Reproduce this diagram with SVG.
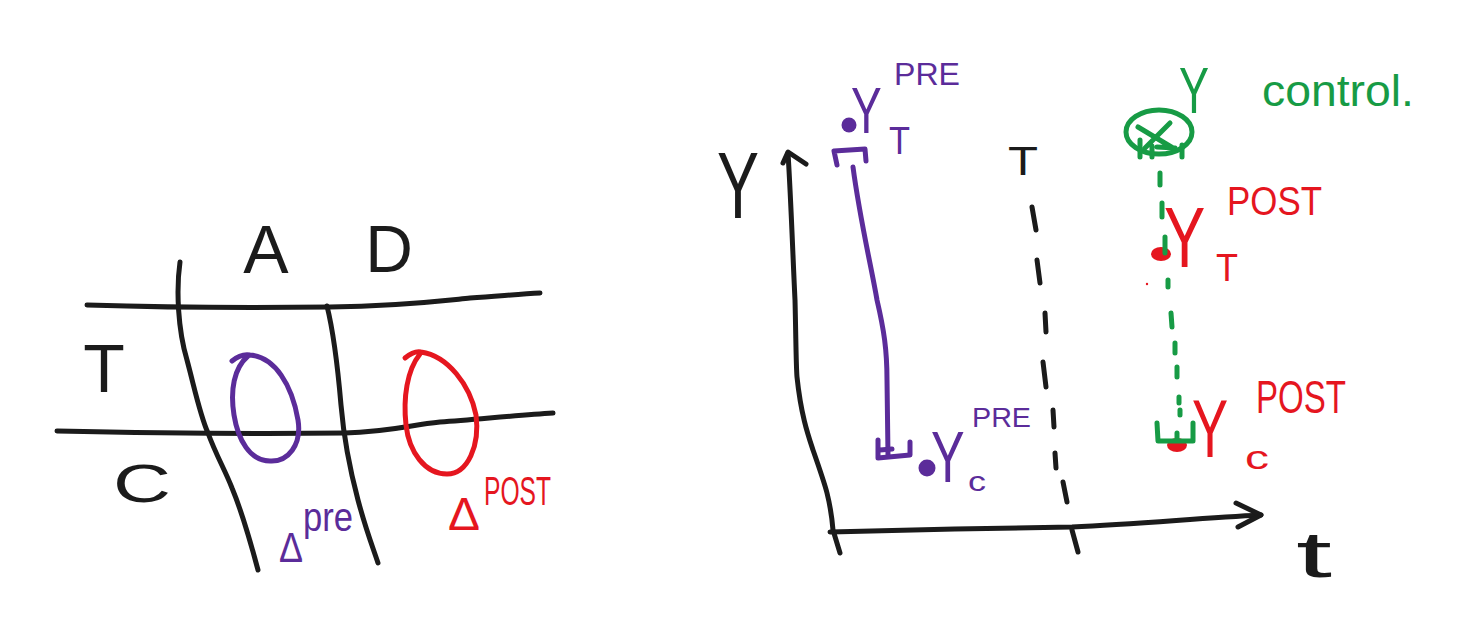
<svg xmlns="http://www.w3.org/2000/svg" width="1483" height="619" viewBox="0 0 1483 619">
<style>
text{font-family:"Liberation Sans",Arial,sans-serif}
.k{fill:#1b1b1b}
.p{fill:#5b2c9a}
.r{fill:#e5161f}
.g{fill:#179b45}
.sk,.sp,.sr,.sg{fill:none;stroke-width:5;stroke-linecap:round;stroke-linejoin:round}
.sk{stroke:#1b1b1b}
.sp{stroke:#5b2c9a}
.sr{stroke:#e5161f}
.sg{stroke:#179b45}
</style>
<rect width="1483" height="619" fill="#ffffff"/>

<g id="table">
  <path class="sk" d="M87,305 C150,307 250,308 330,307 C400,306 440,301 470,298 C500,296 520,294 540,293"/>
  <path class="sk" d="M57,431 C150,433 260,434 345,433 C390,432 410,425 440,422 C480,419 520,415 553,413"/>
  <path class="sk" d="M180,262 C176,290 178,330 187,360 C195,390 200,415 208,433 C216,455 225,470 232,488 C242,512 250,540 258,570"/>
  <path class="sk" d="M327,306 C333,330 338,370 341,405 C344,440 350,470 358,500 C366,530 372,545 378,563"/>
</g>
<g id="node-A"><text class="k" x="266" y="273" font-size="68" text-anchor="middle">A</text></g>
<g id="node-D"><text class="k" x="389" y="272" font-size="66" text-anchor="middle">D</text></g>
<g id="node-T"><text class="k" x="104" y="392" font-size="68" text-anchor="middle">T</text></g>
<g id="node-C"><text class="k" x="113" y="502" font-size="54" textLength="58" lengthAdjust="spacingAndGlyphs">C</text></g>
<g id="node-pre">
  <path class="sp" d="M232,361 C238,356 244,354 250,355 C275,357 292,385 298,420 C302,445 288,462 270,461 C250,461 238,440 234,415 C230,390 234,368 248,356"/>
  <text class="p" x="279" y="562" font-size="42" textLength="24" lengthAdjust="spacingAndGlyphs">Δ</text>
  <text class="p" x="303" y="531" font-size="40" textLength="50" lengthAdjust="spacingAndGlyphs">pre</text>
</g>
<g id="node-post">
  <path class="sr" d="M405,358 C411,353 416,351 421,352 C448,356 470,385 476,415 C480,445 468,474 447,474 C425,474 409,452 406,425 C403,398 407,370 420,354"/>
  <text class="r" x="448" y="530" font-size="46" textLength="32" lengthAdjust="spacingAndGlyphs">Δ</text>
  <text class="r" x="484" y="505" font-size="40" textLength="67" lengthAdjust="spacingAndGlyphs">POST</text>
</g>

<g id="connectors">
  <path class="sk" d="M788,153 C791,200 793,260 795,300 C796,340 796,365 797,377 C801,415 808,435 813,450 C820,470 825,485 827,493 C830,505 832,518 833,530 L840,553"/>
  <path class="sk" d="M783,163 L788,152 L806,164"/>
  <path class="sk" d="M830,532 C900,530 1000,528 1072,527 C1140,524 1200,518 1261,515"/>
  <path class="sk" d="M1236,503 L1261,515 L1238,527"/>
  <path class="sk" d="M1072,530 L1078,552"/>
  <path class="sk" d="M1032,207 L1036,230 M1037,260 L1040,283 M1045,313 L1046,332 M1043,362 L1046,387 M1053,410 L1054,427 M1055,453 L1056,468 M1063,482 L1067,502"/>
  <path class="sp" d="M853,167 C860,220 872,270 877,300 C884,330 887,350 887,380 L888,455"/>
  <path class="sp" d="M837,165 L834,151 L865,149 L866,161"/>
  <path class="sp" d="M878,440 L878,458 L910,455 L910,442 M880,450 L892,449"/>
  <path class="sg" d="M1160,173 L1160,185 M1162,203 L1162,217 M1171,313 L1172,327 M1175,343 L1175,353 M1177,367 L1177,377 M1179,397 L1179,403 M1180,410 L1180,415"/>
</g>

<g id="node-axis-Y"><text class="k" x="717" y="218" font-size="94" textLength="42" lengthAdjust="spacingAndGlyphs">Y</text></g>
<g id="node-axis-t"><text class="k" x="1296" y="577" font-size="64" textLength="36" lengthAdjust="spacingAndGlyphs">t</text></g>
<g id="node-T-line"><text class="k" x="1008" y="175" font-size="40" textLength="30" lengthAdjust="spacingAndGlyphs">T</text></g>

<g id="node-YT-pre">
  <circle class="p" cx="849" cy="125" r="7.5"/>
  <text class="p" font-size="64" transform="translate(851,133) scale(0.72,1)">Y</text>
  <text class="p" x="894" y="85" font-size="32" textLength="66" lengthAdjust="spacingAndGlyphs">PRE</text>
  <text class="p" x="889" y="154" font-size="38" textLength="21" lengthAdjust="spacingAndGlyphs">T</text>
</g>
<g id="node-Yc-pre">
  <circle class="p" cx="927" cy="468" r="8.5"/>
  <text class="p" font-size="72" transform="translate(931,482) scale(0.7,1)">Y</text>
  <text class="p" x="972" y="427" font-size="28" textLength="59" lengthAdjust="spacingAndGlyphs">PRE</text>
  <text class="p" x="968" y="491" font-size="28" textLength="18" lengthAdjust="spacingAndGlyphs">c</text>
</g>

<g id="node-Y-control">
  <ellipse class="sg" cx="1159" cy="132" rx="33" ry="22"/>
  <path class="sg" d="M1138,127 L1173,148 M1170,123 L1145,148 M1157,147 L1175,148 M1140,140 L1140,157 M1152,146 L1152,157 M1182,145 L1182,157"/>
  <text class="g" x="1179" y="113" font-size="64" textLength="30" lengthAdjust="spacingAndGlyphs">Y</text>
  <text class="g" x="1262" y="106" font-size="44" textLength="152" lengthAdjust="spacingAndGlyphs">control.</text>
</g>

<g id="node-YT-post">
  <ellipse class="r" cx="1161" cy="254" rx="10" ry="7"/>
  <path class="sg" d="M1165,237 L1165,253 M1168,280 L1168,287"/>
  <circle class="r" cx="1147" cy="284" r="1.2"/>
  <text class="r" font-size="86" transform="translate(1164,267) scale(0.72,1)">Y</text>
  <text class="r" x="1216" y="281" font-size="38" textLength="22" lengthAdjust="spacingAndGlyphs">T</text>
  <text class="r" x="1227" y="215" font-size="40" textLength="95" lengthAdjust="spacingAndGlyphs">POST</text>
</g>
<g id="node-Yc-post">
  <ellipse class="r" cx="1177" cy="445" rx="10" ry="7"/>
  <path class="sg" d="M1157,423 L1158,441 L1193,441 L1193,423 M1177,433 L1177,441"/>
  <text class="r" font-size="82" transform="translate(1192,457) scale(0.66,1)">Y</text>
  <text class="r" x="1256" y="413" font-size="46" textLength="90" lengthAdjust="spacingAndGlyphs">POST</text>
  <text class="r" x="1245" y="469" font-size="34" textLength="24" lengthAdjust="spacingAndGlyphs">c</text>
</g>
</svg>
